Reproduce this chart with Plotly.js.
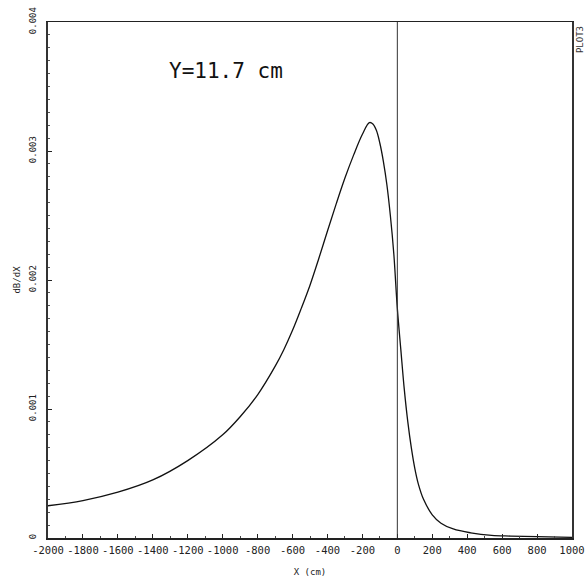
<!DOCTYPE html>
<html>
<head>
<meta charset="utf-8">
<script src="https://cdn.plot.ly/plotly-3.0.1.min.js"></script>
<style>html,body{margin:0;padding:0;background:#fff;}#chart{width:588px;height:579px;}</style>
</head>
<body>
<div id="chart"></div>
<script>
// Data
const xPos = [-2000, -1800, -1600, -1400, -1200, -1000, -900, -800, -700, -650, -600, -550, -500, -450, -400, -350, -300, -250, -200, -160, -140, -120, -100, -80, -60, -40, -20, 0, 20, 40, 60, 80, 100, 120, 150, 200, 250, 320, 420, 540, 650, 800, 1000];
const dBdX = [0.00025, 0.00029, 0.000355, 0.00045, 0.0006, 0.0008, 0.00094, 0.00111, 0.00133, 0.00146, 0.00161, 0.00178, 0.00196, 0.002165, 0.00238, 0.00259, 0.00279, 0.00297, 0.00313, 0.00322, 0.00321, 0.00316, 0.00306, 0.00292, 0.00274, 0.0025, 0.0022, 0.00178, 0.00146, 0.00115, 0.0009, 0.0007, 0.00054, 0.00042, 0.0003, 0.00018, 0.000115, 0.00007, 0.00004, 0.00002, 0.000015, 0.00001, 0.000005];
const xTicks = [-2000, -1800, -1600, -1400, -1200, -1000, -800, -600, -400, -200, 0, 200, 400, 600, 800, 1000];
const xTickText = ["-2000", "-1800", "-1600", "-1400", "-1200", "-1000", "-800", "-600", "-400", "-200", "0", "200", "400", "600", "800", "1000"];
const yTicks = [0, 0.001, 0.002, 0.003, 0.004];
const yTickText = ["0", "0.001", "0.002", "0.003", "0.004"];
const labelText = "Y=11.7 cm";
const plotTag = "PLOT3";

const mono = "DejaVu Sans Mono, Liberation Mono, monospace";

const traces = [{
  x: xPos, y: dBdX, type: "scatter", mode: "lines",
  line: {color: "#111", width: 1.3, shape: "spline", smoothing: 1},
  hoverinfo: "x+y", showlegend: false
}];

const layout = {
  width: 588, height: 579,
  margin: {l: 48, r: 16, t: 22, b: 41, pad: 0},
  paper_bgcolor: "#fff", plot_bgcolor: "#fff",
  showlegend: false,
  xaxis: {
    range: [-2000, 1000], autorange: false,
    tickmode: "array", tickvals: xTicks, ticktext: xTickText,
    ticks: "inside", ticklen: 4, tickwidth: 1, tickcolor: "#222",
    minor: {dtick: 100, ticks: "inside", ticklen: 2, tickcolor: "#444"},
    showgrid: false, zeroline: false,
    showline: true, linecolor: "#222", linewidth: 1.5, mirror: true,
    tickfont: {family: mono, size: 10.5, color: "#222"},
    ticklabelstandoff: 2,
    title: {text: "X (cm)", font: {family: mono, size: 9, color: "#222"}, standoff: 13}
  },
  yaxis: {
    range: [0, 0.004], autorange: false,
    tickmode: "array", tickvals: yTicks, ticktext: yTickText,
    tickangle: -90,
    ticks: "inside", ticklen: 4, tickwidth: 1, tickcolor: "#222",
    minor: {dtick: 0.0001, ticks: "inside", ticklen: 2, tickcolor: "#555"},
    showgrid: false, zeroline: false,
    showline: true, linecolor: "#333", linewidth: 2, mirror: true,
    tickfont: {family: mono, size: 9, color: "#222"},
    ticklabelstandoff: 6,
    title: {text: "dB/dX", font: {family: mono, size: 9, color: "#222"}, standoff: 6}
  },
  shapes: [{
    type: "line", xref: "x", yref: "paper", x0: 0, x1: 0, y0: 0, y1: 1,
    line: {color: "#333", width: 1}
  }],
  annotations: [
    {text: labelText, xref: "paper", yref: "paper", x: 0.34, y: 0.905,
     xanchor: "center", yanchor: "middle", showarrow: false,
     font: {family: mono, size: 21, color: "#111"}},
    {text: plotTag, xref: "paper", yref: "paper", x: 1.0, y: 0.965,
     xanchor: "left", yanchor: "middle", xshift: 1, showarrow: false, textangle: -90,
     font: {family: mono, size: 9, color: "#333"}}
  ]
};

Plotly.newPlot("chart", traces, layout, {staticPlot: true, displayModeBar: false});
</script>
</body>
</html>
